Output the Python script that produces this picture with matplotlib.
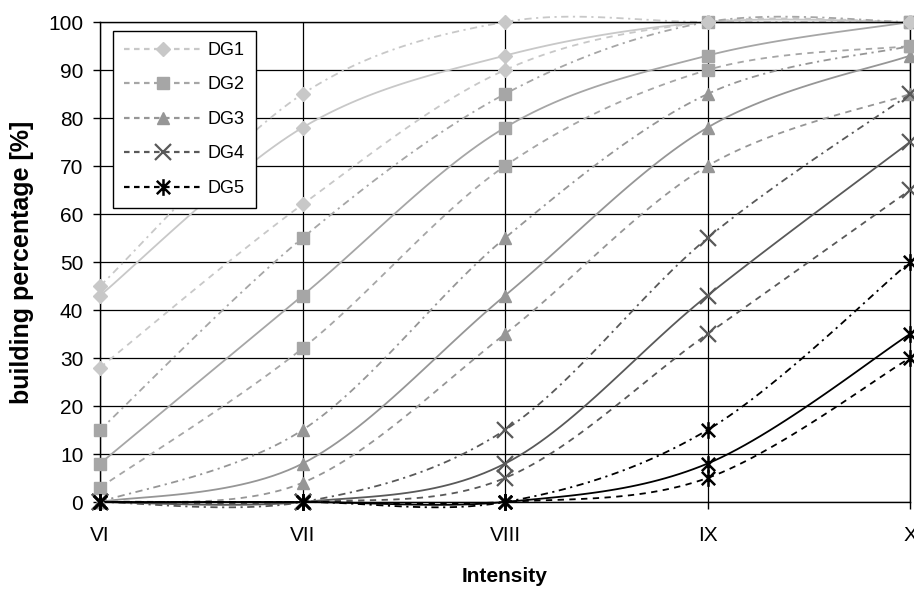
import numpy as np
import matplotlib
matplotlib.use("Agg")
import matplotlib.pyplot as plt
from matplotlib.path import Path
from matplotlib.lines import Line2D

plt.rcParams['font.family'] = ['Liberation Sans', 'DejaVu Sans']

intensity = ['VI', 'VII', 'VIII', 'IX', 'X']

# upper / mean / lower percentages per damage grade
dg1_upper = [45, 85, 100, 100, 100]
dg1_mean = [43, 78, 93, 100, 100]
dg1_lower = [28, 62, 90, 100, 100]

dg2_upper = [15, 55, 85, 100, 100]
dg2_mean = [8, 43, 78, 93, 100]
dg2_lower = [3, 32, 70, 90, 95]

dg3_upper = [0, 15, 55, 85, 95]
dg3_mean = [0, 8, 43, 78, 93]
dg3_lower = [0, 4, 35, 70, 85]

dg4_upper = [0, 0, 15, 55, 85]
dg4_mean = [0, 0, 8, 43, 75]
dg4_lower = [0, 0, 5, 35, 65]

dg5_upper = [0, 0, 0, 15, 50]
dg5_mean = [0, 0, 0, 8, 35]
dg5_lower = [0, 0, 0, 5, 30]

# Excel-style star marker: an x with a vertical bar
star = Path([(-1, -1), (1, 1), (-1, 1), (1, -1), (0, -1.25), (0, 1.25)],
            [Path.MOVETO, Path.LINETO, Path.MOVETO, Path.LINETO, Path.MOVETO, Path.LINETO])

series = [
    ('DG1', (dg1_upper, dg1_mean, dg1_lower), '#c8c8c8', 'D', 7, 1.0, 5),
    ('DG2', (dg2_upper, dg2_mean, dg2_lower), '#a6a6a6', 's', 9, 1.0, 4),
    ('DG3', (dg3_upper, dg3_mean, dg3_lower), '#969696', '^', 9, 1.0, 3),
    ('DG4', (dg4_upper, dg4_mean, dg4_lower), '#595959', 'x', 11, 1.6, 6),
    ('DG5', (dg5_upper, dg5_mean, dg5_lower), '#000000', star, 12, 1.8, 7),
]

upper_style = (0, (4, 2.5, 1.2, 2.5))
lower_style = (0, (3.5, 3))


def smooth(xs, ys, n=30):
    # Catmull-Rom curve through the points, like Excel's smoothed line
    xs = np.asarray(xs, float)
    ys = np.asarray(ys, float)
    px = np.concatenate([[xs[0]], xs, [xs[-1]]])
    py = np.concatenate([[ys[0]], ys, [ys[-1]]])
    t = np.linspace(0, 1, n)[:, None]
    outx, outy = [], []
    for i in range(1, len(px) - 2):
        p0, p1, p2, p3 = [np.array([px[j], py[j]]) for j in (i - 1, i, i + 1, i + 2)]
        c1 = p1 + (p2 - p0) / 6
        c2 = p2 - (p3 - p1) / 6
        b = ((1 - t) ** 3) * p1 + 3 * ((1 - t) ** 2) * t * c1 + 3 * (1 - t) * t ** 2 * c2 + t ** 3 * p2
        outx.extend(b[:, 0])
        outy.extend(b[:, 1])
    return np.array(outx), np.array(outy)


fig = plt.figure(figsize=(9.14, 5.9), dpi=100)
ax = fig.add_axes([100 / 914, 1 - 502 / 590, 810 / 914, 480 / 590])

x = np.arange(len(intensity))

handles = []
for name, (up, mean, low), col, mk, ms, mew, z in series:
    for vals, ls in ((up, upper_style), (mean, '-'), (low, lower_style)):
        sx, sy = smooth(x, vals)
        ax.plot(sx, sy, color=col, lw=1.3, linestyle=ls, zorder=2, clip_on=False)
        ax.plot(x, vals, linestyle='none', marker=mk, ms=ms, color=col,
                mec=col, mew=mew, zorder=z, clip_on=False)
    handles.append(Line2D([], [], color=col, lw=1.6, linestyle=(0, (2.5, 2)),
                          marker=mk, ms=ms, mec=col, mew=mew, label=name))

ax.set_xlim(0, 4)
ax.set_ylim(0, 100)
ax.set_xticks(x)
ax.set_xticklabels(intensity)
ax.set_yticks(np.arange(0, 101, 10))
ax.grid(True, color='black', lw=0.9)
ax.set_axisbelow(True)
for sp in ax.spines.values():
    sp.set_color('black')
    sp.set_linewidth(1.0)
ax.tick_params(axis='y', length=5, width=1, pad=7, labelsize=15)
ax.tick_params(axis='x', length=5, width=1, pad=12, labelsize=15)

ax.set_ylabel('building percentage [%]', fontsize=18, fontweight='bold')
ax.set_xlabel('Intensity', fontsize=15, fontweight='bold')
ax.yaxis.set_label_coords(-0.082, 0.5)
ax.xaxis.set_label_coords(0.5, -0.135)

leg = ax.legend(handles=handles, loc='upper left', bbox_to_anchor=(0.016, 0.981),
                borderaxespad=0, fontsize=13, handlelength=4.3, handletextpad=0.35,
                labelspacing=0.97, borderpad=0.6, fancybox=False, framealpha=1)
leg.get_frame().set_edgecolor('black')
leg.get_frame().set_linewidth(1.0)
leg.set_zorder(10)

fig.savefig('out.png', dpi=100)
